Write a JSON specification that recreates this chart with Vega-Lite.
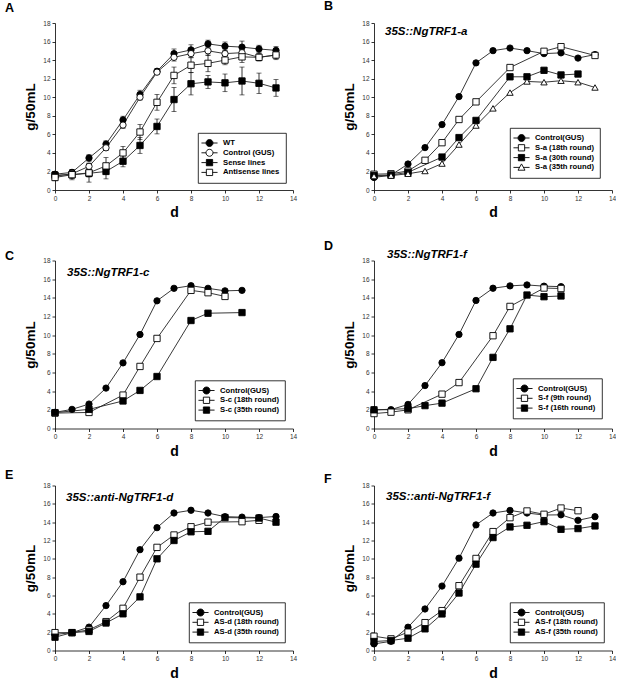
{
"$schema": "https://vega.github.io/schema/vega-lite/v6.json",
"padding": {"left": 5, "top": 0, "right": 0, "bottom": 0},
"spacing": 19.5,
"vconcat": [
{"hconcat": [
{"title": {"text": "A", "dy": -1.5}, "vconcat": [
{
 "width": 238, "height": 167,
 "data": {"values": [
  {"s":"WT","d":0,"v":1.7,"e":0.25},{"s":"WT","d":1,"v":1.9,"e":0.3},{"s":"WT","d":2,"v":3.45,"e":0.35},{"s":"WT","d":3,"v":4.95,"e":0.35},{"s":"WT","d":4,"v":7.55,"e":0.4},{"s":"WT","d":5,"v":10.3,"e":0.45},{"s":"WT","d":6,"v":12.8,"e":0.25},{"s":"WT","d":7,"v":14.7,"e":0.5},{"s":"WT","d":8,"v":15.1,"e":0.55},{"s":"WT","d":9,"v":15.75,"e":0.4},{"s":"WT","d":10,"v":15.5,"e":0.45},{"s":"WT","d":11,"v":15.4,"e":0.65},{"s":"WT","d":12,"v":15.2,"e":0.4},{"s":"WT","d":13,"v":15.05,"e":0.4},
  {"s":"Control (GUS)","d":0,"v":1.5,"e":0.3},{"s":"Control (GUS)","d":1,"v":1.75,"e":0.3},{"s":"Control (GUS)","d":2,"v":2.55,"e":0.35},{"s":"Control (GUS)","d":3,"v":4.55,"e":0.3},{"s":"Control (GUS)","d":4,"v":7.0,"e":0.35},{"s":"Control (GUS)","d":5,"v":10.0,"e":0.3},{"s":"Control (GUS)","d":6,"v":12.7,"e":0.25},{"s":"Control (GUS)","d":7,"v":14.3,"e":0.4},{"s":"Control (GUS)","d":8,"v":14.7,"e":0.4},{"s":"Control (GUS)","d":9,"v":15.0,"e":0.5},{"s":"Control (GUS)","d":10,"v":14.7,"e":0.4},{"s":"Control (GUS)","d":11,"v":14.8,"e":0.35},{"s":"Control (GUS)","d":12,"v":14.3,"e":0.4},{"s":"Control (GUS)","d":13,"v":14.55,"e":0.4},
  {"s":"Sense lines","d":0,"v":1.6,"e":0.35},{"s":"Sense lines","d":1,"v":1.65,"e":0.4},{"s":"Sense lines","d":2,"v":1.8,"e":0.4},{"s":"Sense lines","d":3,"v":2.0,"e":0.8},{"s":"Sense lines","d":4,"v":3.1,"e":0.6},{"s":"Sense lines","d":5,"v":4.8,"e":0.85},{"s":"Sense lines","d":6,"v":6.85,"e":0.8},{"s":"Sense lines","d":7,"v":9.75,"e":1.3},{"s":"Sense lines","d":8,"v":11.45,"e":1.2},{"s":"Sense lines","d":9,"v":11.65,"e":0.7},{"s":"Sense lines","d":10,"v":11.55,"e":0.95},{"s":"Sense lines","d":11,"v":11.75,"e":1.5},{"s":"Sense lines","d":12,"v":11.5,"e":1.1},{"s":"Sense lines","d":13,"v":11.0,"e":0.9},
  {"s":"Antisense lines","d":0,"v":1.35,"e":0.35},{"s":"Antisense lines","d":1,"v":1.65,"e":0.55},{"s":"Antisense lines","d":2,"v":1.85,"e":1.0},{"s":"Antisense lines","d":3,"v":2.6,"e":0.9},{"s":"Antisense lines","d":4,"v":4.0,"e":0.7},{"s":"Antisense lines","d":5,"v":6.25,"e":0.8},{"s":"Antisense lines","d":6,"v":9.45,"e":0.85},{"s":"Antisense lines","d":7,"v":12.35,"e":0.9},{"s":"Antisense lines","d":8,"v":13.45,"e":0.8},{"s":"Antisense lines","d":9,"v":13.65,"e":0.9},{"s":"Antisense lines","d":10,"v":14.0,"e":0.5},{"s":"Antisense lines","d":11,"v":14.35,"e":0.6},{"s":"Antisense lines","d":12,"v":14.3,"e":0.35},{"s":"Antisense lines","d":13,"v":14.55,"e":0.5}
 ]},
 "encoding": {
  "x": {"field": "d", "type": "quantitative", "scale": {"domain": [0, 14], "nice": false}, "axis": {"values": [0,2,4,6,8,10,12,14], "title": "d"}},
  "y": {"field": "v", "type": "quantitative", "scale": {"domain": [0, 18], "nice": false}, "axis": {"values": [0,2,4,6,8,10,12,14,16,18], "title": "g/50mL"}}
 },
 "layer": [
  {"mark": {"type": "errorbar", "color": "black", "thickness": 0.8, "ticks": {"size": 5, "color": "black", "thickness": 0.8}}, "encoding": {"yError": {"field": "e"}, "detail": {"field": "s"}}},
  {"mark": {"type": "line", "color": "#222", "strokeWidth": 0.9}, "encoding": {"detail": {"field": "s"}}},
  {"mark": {"type": "point", "filled": true, "stroke": "black", "strokeWidth": 0.9, "size": 40, "opacity": 1},
   "encoding": {
    "shape": {"field": "s", "scale": {"domain": ["WT","Control (GUS)","Sense lines","Antisense lines"], "range": ["circle","circle","square","square"]}, "legend": null},
    "fill": {"field": "s", "scale": {"domain": ["WT","Control (GUS)","Sense lines","Antisense lines"], "range": ["black","white","black","white"]}, "legend": null}}},
  {"mark": {"type": "point", "filled": true, "stroke": "black", "strokeWidth": 0.9, "opacity": 0},
   "encoding": {
    "shape": {"field": "s", "scale": {"domain": ["WT","Control (GUS)","Sense lines","Antisense lines"], "range": ["M-2.3,0H-1M1,0H2.3M1,0A1,1,0,1,1,-1,0A1,1,0,1,1,1,0Z","M-2.3,0H-1M1,0H2.3M1,0A1,1,0,1,1,-1,0A1,1,0,1,1,1,0Z","M-2.3,0H-0.9M0.9,0H2.3M-0.9,-0.9H0.9V0.9H-0.9Z","M-2.3,0H-0.9M0.9,0H2.3M-0.9,-0.9H0.9V0.9H-0.9Z"]}, "legend": {"title": null, "orient": "bottom-right", "offset": 7, "encode": {"symbols": {"update": {"opacity": {"value": 1}, "stroke": {"value": "black"}, "strokeWidth": {"value": 0.9}, "strokeJoin": {"value": "round"}}}}}},
    "fill": {"field": "s", "scale": {"domain": ["WT","Control (GUS)","Sense lines","Antisense lines"], "range": ["black","white","black","white"]}, "legend": {"title": null, "orient": "bottom-right", "offset": 7, "encode": {"symbols": {"update": {"opacity": {"value": 1}, "stroke": {"value": "black"}, "strokeWidth": {"value": 0.9}, "strokeJoin": {"value": "round"}}}}}}}}
 ],
 "resolve": {"scale": {"shape": "independent", "fill": "independent"}}
}]},
{"title": {"text": "B", "dy": -3.5}, "vconcat": [
{
 "width": 238, "height": 167,
 "title": {"text": "35S::NgTRF1-a", "fontSize": 11.5, "fontStyle": "italic", "dx": 11, "offset": -17.5, "anchor": "start", "frame": "group"},
 "data": {"values": [
  {"s":"Control(GUS)","d":0,"v":1.35},{"s":"Control(GUS)","d":1,"v":1.6},{"s":"Control(GUS)","d":2,"v":2.8},{"s":"Control(GUS)","d":3,"v":4.57},{"s":"Control(GUS)","d":4,"v":7.05},{"s":"Control(GUS)","d":5,"v":10.07},{"s":"Control(GUS)","d":6,"v":13.7},{"s":"Control(GUS)","d":7,"v":15.02},{"s":"Control(GUS)","d":8,"v":15.3},{"s":"Control(GUS)","d":9,"v":15.02},{"s":"Control(GUS)","d":10,"v":14.7},{"s":"Control(GUS)","d":11,"v":14.78},{"s":"Control(GUS)","d":12,"v":14.22},{"s":"Control(GUS)","d":13,"v":14.6},
  {"s":"S-a (18th round)","d":0,"v":1.7},{"s":"S-a (18th round)","d":1,"v":1.75},{"s":"S-a (18th round)","d":2,"v":2.05},{"s":"S-a (18th round)","d":3,"v":3.2},{"s":"S-a (18th round)","d":4,"v":5.1},{"s":"S-a (18th round)","d":5,"v":7.6},{"s":"S-a (18th round)","d":6,"v":9.5},{"s":"S-a (18th round)","d":8,"v":13.2},{"s":"S-a (18th round)","d":10,"v":14.95},{"s":"S-a (18th round)","d":11,"v":15.45},{"s":"S-a (18th round)","d":13,"v":14.5},
  {"s":"S-a (30th round)","d":0,"v":1.55},{"s":"S-a (30th round)","d":1,"v":1.62},{"s":"S-a (30th round)","d":2,"v":1.9},{"s":"S-a (30th round)","d":4,"v":3.55},{"s":"S-a (30th round)","d":5,"v":5.65},{"s":"S-a (30th round)","d":6,"v":7.5},{"s":"S-a (30th round)","d":8,"v":12.2},{"s":"S-a (30th round)","d":9,"v":12.2},{"s":"S-a (30th round)","d":10,"v":12.9},{"s":"S-a (30th round)","d":11,"v":12.4},{"s":"S-a (30th round)","d":12,"v":12.5},
  {"s":"S-a (35th round)","d":0,"v":1.5},{"s":"S-a (35th round)","d":1,"v":1.55},{"s":"S-a (35th round)","d":2,"v":1.75},{"s":"S-a (35th round)","d":3,"v":2.05},{"s":"S-a (35th round)","d":4,"v":2.85},{"s":"S-a (35th round)","d":5,"v":4.9},{"s":"S-a (35th round)","d":6,"v":6.95},{"s":"S-a (35th round)","d":7,"v":8.8},{"s":"S-a (35th round)","d":8,"v":10.5},{"s":"S-a (35th round)","d":9,"v":11.7},{"s":"S-a (35th round)","d":10,"v":11.62},{"s":"S-a (35th round)","d":11,"v":11.78},{"s":"S-a (35th round)","d":12,"v":11.62},{"s":"S-a (35th round)","d":13,"v":11.05}
 ]},
 "encoding": {
  "x": {"field": "d", "type": "quantitative", "scale": {"domain": [0, 14], "nice": false}, "axis": {"values": [0,2,4,6,8,10,12,14], "title": "d"}},
  "y": {"field": "v", "type": "quantitative", "scale": {"domain": [0, 18], "nice": false}, "axis": {"values": [0,2,4,6,8,10,12,14,16,18], "title": "g/50mL"}}
 },
 "layer": [
  {"mark": {"type": "line", "color": "#222", "strokeWidth": 0.9}, "encoding": {"detail": {"field": "s"}}},
  {"mark": {"type": "point", "filled": true, "stroke": "black", "strokeWidth": 0.9, "size": 40, "opacity": 1},
   "encoding": {
    "shape": {"field": "s", "scale": {"domain": ["Control(GUS)","S-a (18th round)","S-a (30th round)","S-a (35th round)"], "range": ["circle","square","square","triangle-up"]}, "legend": null},
    "fill": {"field": "s", "scale": {"domain": ["Control(GUS)","S-a (18th round)","S-a (30th round)","S-a (35th round)"], "range": ["black","white","black","white"]}, "legend": null}}},
  {"mark": {"type": "point", "filled": true, "stroke": "black", "strokeWidth": 0.9, "opacity": 0},
   "encoding": {
    "shape": {"field": "s", "scale": {"domain": ["Control(GUS)","S-a (18th round)","S-a (30th round)","S-a (35th round)"], "range": ["M-2.3,0H-1M1,0H2.3M1,0A1,1,0,1,1,-1,0A1,1,0,1,1,1,0Z","M-2.3,0H-0.9M0.9,0H2.3M-0.9,-0.9H0.9V0.9H-0.9Z","M-2.3,0H-0.9M0.9,0H2.3M-0.9,-0.9H0.9V0.9H-0.9Z","M-2.3,0H-0.5M0.5,0H2.3M0,-1L1,0.8H-1Z"]}, "legend": {"title": null, "orient": "bottom-right", "offset": 12, "encode": {"symbols": {"update": {"opacity": {"value": 1}, "stroke": {"value": "black"}, "strokeWidth": {"value": 0.9}, "strokeJoin": {"value": "round"}}}}}},
    "fill": {"field": "s", "scale": {"domain": ["Control(GUS)","S-a (18th round)","S-a (30th round)","S-a (35th round)"], "range": ["black","white","black","white"]}, "legend": {"title": null, "orient": "bottom-right", "offset": 12, "encode": {"symbols": {"update": {"opacity": {"value": 1}, "stroke": {"value": "black"}, "strokeWidth": {"value": 0.9}, "strokeJoin": {"value": "round"}}}}}}}}
 ],
 "resolve": {"scale": {"shape": "independent", "fill": "independent"}}
}]}
], "spacing": 27},
{"vconcat": [
{"hconcat": [
{"title": {"text": "C", "dy": 9}, "vconcat": [
{
 "width": 238, "height": 168,
 "title": {"text": "35S::NgTRF1-c", "fontSize": 11.5, "fontStyle": "italic", "dx": 12, "offset": -20.5, "anchor": "start", "frame": "group"},
 "data": {"values": [
  {"s":"Control(GUS)","d":0,"v":1.73},{"s":"Control(GUS)","d":1,"v":2.05},{"s":"Control(GUS)","d":2,"v":2.62},{"s":"Control(GUS)","d":3,"v":4.33},{"s":"Control(GUS)","d":4,"v":7.03},{"s":"Control(GUS)","d":5,"v":10.07},{"s":"Control(GUS)","d":6,"v":13.68},{"s":"Control(GUS)","d":7,"v":15.02},{"s":"Control(GUS)","d":8,"v":15.3},{"s":"Control(GUS)","d":9,"v":15.02},{"s":"Control(GUS)","d":10,"v":14.75},{"s":"Control(GUS)","d":11,"v":14.8},
  {"s":"S-c (18th round)","d":0,"v":1.65},{"s":"S-c (18th round)","d":2,"v":1.72},{"s":"S-c (18th round)","d":4,"v":3.58},{"s":"S-c (18th round)","d":5,"v":6.65},{"s":"S-c (18th round)","d":6,"v":9.65},{"s":"S-c (18th round)","d":8,"v":14.8},{"s":"S-c (18th round)","d":9,"v":14.55},{"s":"S-c (18th round)","d":10,"v":14.15},
  {"s":"S-c (35th round)","d":0,"v":1.7},{"s":"S-c (35th round)","d":2,"v":2.05},{"s":"S-c (35th round)","d":4,"v":2.95},{"s":"S-c (35th round)","d":5,"v":4.08},{"s":"S-c (35th round)","d":6,"v":5.57},{"s":"S-c (35th round)","d":8,"v":11.57},{"s":"S-c (35th round)","d":9,"v":12.35},{"s":"S-c (35th round)","d":11,"v":12.42}
 ]},
 "encoding": {
  "x": {"field": "d", "type": "quantitative", "scale": {"domain": [0, 14], "nice": false}, "axis": {"values": [0,2,4,6,8,10,12,14], "title": "d"}},
  "y": {"field": "v", "type": "quantitative", "scale": {"domain": [0, 18], "nice": false}, "axis": {"values": [0,2,4,6,8,10,12,14,16,18], "title": "g/50mL"}}
 },
 "layer": [
  {"mark": {"type": "line", "color": "#222", "strokeWidth": 0.9}, "encoding": {"detail": {"field": "s"}}},
  {"mark": {"type": "point", "filled": true, "stroke": "black", "strokeWidth": 0.9, "size": 40, "opacity": 1},
   "encoding": {
    "shape": {"field": "s", "scale": {"domain": ["Control(GUS)","S-c (18th round)","S-c (35th round)"], "range": ["circle","square","square"]}, "legend": null},
    "fill": {"field": "s", "scale": {"domain": ["Control(GUS)","S-c (18th round)","S-c (35th round)"], "range": ["black","white","black"]}, "legend": null}}},
  {"mark": {"type": "point", "filled": true, "stroke": "black", "strokeWidth": 0.9, "opacity": 0},
   "encoding": {
    "shape": {"field": "s", "scale": {"domain": ["Control(GUS)","S-c (18th round)","S-c (35th round)"], "range": ["M-2.3,0H-1M1,0H2.3M1,0A1,1,0,1,1,-1,0A1,1,0,1,1,1,0Z","M-2.3,0H-0.9M0.9,0H2.3M-0.9,-0.9H0.9V0.9H-0.9Z","M-2.3,0H-0.9M0.9,0H2.3M-0.9,-0.9H0.9V0.9H-0.9Z"]}, "legend": {"title": null, "orient": "bottom-right", "offset": 8, "encode": {"symbols": {"update": {"opacity": {"value": 1}, "stroke": {"value": "black"}, "strokeWidth": {"value": 0.9}, "strokeJoin": {"value": "round"}}}}}},
    "fill": {"field": "s", "scale": {"domain": ["Control(GUS)","S-c (18th round)","S-c (35th round)"], "range": ["black","white","black"]}, "legend": {"title": null, "orient": "bottom-right", "offset": 8, "encode": {"symbols": {"update": {"opacity": {"value": 1}, "stroke": {"value": "black"}, "strokeWidth": {"value": 0.9}, "strokeJoin": {"value": "round"}}}}}}}}
 ],
 "resolve": {"scale": {"shape": "independent", "fill": "independent"}}
}]},
{"title": {"text": "D", "dy": 8}, "vconcat": [
{
 "width": 238, "height": 168,
 "title": {"text": "35S::NgTRF1-f", "fontSize": 11.5, "fontStyle": "italic", "dx": 13, "offset": -2.5, "anchor": "start", "frame": "group"},
 "data": {"values": [
  {"s":"Control(GUS)","d":0,"v":2.0},{"s":"Control(GUS)","d":1,"v":2.02},{"s":"Control(GUS)","d":2,"v":2.58},{"s":"Control(GUS)","d":3,"v":4.6},{"s":"Control(GUS)","d":4,"v":7.05},{"s":"Control(GUS)","d":5,"v":10.08},{"s":"Control(GUS)","d":6,"v":13.72},{"s":"Control(GUS)","d":7,"v":15.03},{"s":"Control(GUS)","d":8,"v":15.28},{"s":"Control(GUS)","d":9,"v":15.38},{"s":"Control(GUS)","d":10,"v":15.25},{"s":"Control(GUS)","d":11,"v":15.2},
  {"s":"S-f (9th round)","d":0,"v":1.6},{"s":"S-f (9th round)","d":1,"v":1.75},{"s":"S-f (9th round)","d":2,"v":2.0},{"s":"S-f (9th round)","d":4,"v":3.68},{"s":"S-f (9th round)","d":5,"v":4.92},{"s":"S-f (9th round)","d":7,"v":9.94},{"s":"S-f (9th round)","d":8,"v":13.08},{"s":"S-f (9th round)","d":10,"v":15.05},{"s":"S-f (9th round)","d":11,"v":15.0},
  {"s":"S-f (16th round)","d":0,"v":2.0},{"s":"S-f (16th round)","d":2,"v":2.12},{"s":"S-f (16th round)","d":3,"v":2.45},{"s":"S-f (16th round)","d":4,"v":2.72},{"s":"S-f (16th round)","d":6,"v":4.26},{"s":"S-f (16th round)","d":7,"v":7.62},{"s":"S-f (16th round)","d":8,"v":10.68},{"s":"S-f (16th round)","d":9,"v":14.3},{"s":"S-f (16th round)","d":10,"v":14.12},{"s":"S-f (16th round)","d":11,"v":14.2}
 ]},
 "encoding": {
  "x": {"field": "d", "type": "quantitative", "scale": {"domain": [0, 14], "nice": false}, "axis": {"values": [0,2,4,6,8,10,12,14], "title": "d"}},
  "y": {"field": "v", "type": "quantitative", "scale": {"domain": [0, 18], "nice": false}, "axis": {"values": [0,2,4,6,8,10,12,14,16,18], "title": "g/50mL"}}
 },
 "layer": [
  {"mark": {"type": "line", "color": "#222", "strokeWidth": 0.9}, "encoding": {"detail": {"field": "s"}}},
  {"mark": {"type": "point", "filled": true, "stroke": "black", "strokeWidth": 0.9, "size": 40, "opacity": 1},
   "encoding": {
    "shape": {"field": "s", "scale": {"domain": ["Control(GUS)","S-f (9th round)","S-f (16th round)"], "range": ["circle","square","square"]}, "legend": null},
    "fill": {"field": "s", "scale": {"domain": ["Control(GUS)","S-f (9th round)","S-f (16th round)"], "range": ["black","white","black"]}, "legend": null}}},
  {"mark": {"type": "point", "filled": true, "stroke": "black", "strokeWidth": 0.9, "opacity": 0},
   "encoding": {
    "shape": {"field": "s", "scale": {"domain": ["Control(GUS)","S-f (9th round)","S-f (16th round)"], "range": ["M-2.3,0H-1M1,0H2.3M1,0A1,1,0,1,1,-1,0A1,1,0,1,1,1,0Z","M-2.3,0H-0.9M0.9,0H2.3M-0.9,-0.9H0.9V0.9H-0.9Z","M-2.3,0H-0.9M0.9,0H2.3M-0.9,-0.9H0.9V0.9H-0.9Z"]}, "legend": {"title": null, "orient": "bottom-right", "offset": 10, "encode": {"symbols": {"update": {"opacity": {"value": 1}, "stroke": {"value": "black"}, "strokeWidth": {"value": 0.9}, "strokeJoin": {"value": "round"}}}}}},
    "fill": {"field": "s", "scale": {"domain": ["Control(GUS)","S-f (9th round)","S-f (16th round)"], "range": ["black","white","black"]}, "legend": {"title": null, "orient": "bottom-right", "offset": 10, "encode": {"symbols": {"update": {"opacity": {"value": 1}, "stroke": {"value": "black"}, "strokeWidth": {"value": 0.9}, "strokeJoin": {"value": "round"}}}}}}}}
 ],
 "resolve": {"scale": {"shape": "independent", "fill": "independent"}}
}]}
], "spacing": 27},
{"hconcat": [
{"title": {"text": "E", "dy": 3}, "vconcat": [
{
 "width": 238, "height": 165,
 "title": {"text": "35S::anti-NgTRF1-d", "fontSize": 11.5, "fontStyle": "italic", "dx": 11, "offset": -20.5, "anchor": "start", "frame": "group"},
 "data": {"values": [
  {"s":"Control(GUS)","d":0,"v":1.75},{"s":"Control(GUS)","d":1,"v":1.95},{"s":"Control(GUS)","d":2,"v":2.55},{"s":"Control(GUS)","d":3,"v":4.9},{"s":"Control(GUS)","d":4,"v":7.5},{"s":"Control(GUS)","d":5,"v":11.0},{"s":"Control(GUS)","d":6,"v":13.4},{"s":"Control(GUS)","d":7,"v":15.0},{"s":"Control(GUS)","d":8,"v":15.3},{"s":"Control(GUS)","d":9,"v":15.0},{"s":"Control(GUS)","d":10,"v":14.6},{"s":"Control(GUS)","d":11,"v":14.55},{"s":"Control(GUS)","d":12,"v":14.5},{"s":"Control(GUS)","d":13,"v":14.62},
  {"s":"AS-d (18th round)","d":0,"v":1.95},{"s":"AS-d (18th round)","d":1,"v":1.95},{"s":"AS-d (18th round)","d":2,"v":2.25},{"s":"AS-d (18th round)","d":3,"v":3.15},{"s":"AS-d (18th round)","d":4,"v":4.6},{"s":"AS-d (18th round)","d":5,"v":8.0},{"s":"AS-d (18th round)","d":6,"v":11.25},{"s":"AS-d (18th round)","d":7,"v":12.6},{"s":"AS-d (18th round)","d":8,"v":13.5},{"s":"AS-d (18th round)","d":9,"v":14.0},{"s":"AS-d (18th round)","d":11,"v":14.05},{"s":"AS-d (18th round)","d":12,"v":14.2},
  {"s":"AS-d (35th round)","d":0,"v":1.45},{"s":"AS-d (35th round)","d":1,"v":1.95},{"s":"AS-d (35th round)","d":2,"v":2.08},{"s":"AS-d (35th round)","d":3,"v":3.0},{"s":"AS-d (35th round)","d":4,"v":4.0},{"s":"AS-d (35th round)","d":5,"v":5.85},{"s":"AS-d (35th round)","d":6,"v":10.0},{"s":"AS-d (35th round)","d":7,"v":12.0},{"s":"AS-d (35th round)","d":8,"v":12.95},{"s":"AS-d (35th round)","d":9,"v":13.0},{"s":"AS-d (35th round)","d":10,"v":14.5},{"s":"AS-d (35th round)","d":12,"v":14.45},{"s":"AS-d (35th round)","d":13,"v":14.0}
 ]},
 "encoding": {
  "x": {"field": "d", "type": "quantitative", "scale": {"domain": [0, 14], "nice": false}, "axis": {"values": [0,2,4,6,8,10,12,14], "title": "d"}},
  "y": {"field": "v", "type": "quantitative", "scale": {"domain": [0, 18], "nice": false}, "axis": {"values": [0,2,4,6,8,10,12,14,16,18], "title": "g/50mL"}}
 },
 "layer": [
  {"mark": {"type": "line", "color": "#222", "strokeWidth": 0.9}, "encoding": {"detail": {"field": "s"}}},
  {"mark": {"type": "point", "filled": true, "stroke": "black", "strokeWidth": 0.9, "size": 40, "opacity": 1},
   "encoding": {
    "shape": {"field": "s", "scale": {"domain": ["Control(GUS)","AS-d (18th round)","AS-d (35th round)"], "range": ["circle","square","square"]}, "legend": null},
    "fill": {"field": "s", "scale": {"domain": ["Control(GUS)","AS-d (18th round)","AS-d (35th round)"], "range": ["black","white","black"]}, "legend": null}}},
  {"mark": {"type": "point", "filled": true, "stroke": "black", "strokeWidth": 0.9, "opacity": 0},
   "encoding": {
    "shape": {"field": "s", "scale": {"domain": ["Control(GUS)","AS-d (18th round)","AS-d (35th round)"], "range": ["M-2.3,0H-1M1,0H2.3M1,0A1,1,0,1,1,-1,0A1,1,0,1,1,1,0Z","M-2.3,0H-0.9M0.9,0H2.3M-0.9,-0.9H0.9V0.9H-0.9Z","M-2.3,0H-0.9M0.9,0H2.3M-0.9,-0.9H0.9V0.9H-0.9Z"]}, "legend": {"title": null, "orient": "bottom-right", "offset": 8, "encode": {"symbols": {"update": {"opacity": {"value": 1}, "stroke": {"value": "black"}, "strokeWidth": {"value": 0.9}, "strokeJoin": {"value": "round"}}}}}},
    "fill": {"field": "s", "scale": {"domain": ["Control(GUS)","AS-d (18th round)","AS-d (35th round)"], "range": ["black","white","black"]}, "legend": {"title": null, "orient": "bottom-right", "offset": 8, "encode": {"symbols": {"update": {"opacity": {"value": 1}, "stroke": {"value": "black"}, "strokeWidth": {"value": 0.9}, "strokeJoin": {"value": "round"}}}}}}}}
 ],
 "resolve": {"scale": {"shape": "independent", "fill": "independent"}}
}]},
{"title": {"text": "F", "dy": 7}, "vconcat": [
{
 "width": 238, "height": 165,
 "title": {"text": "35S::anti-NgTRF1-f", "fontSize": 11.5, "fontStyle": "italic", "dx": 12, "offset": -19.5, "anchor": "start", "frame": "group"},
 "data": {"values": [
  {"s":"Control(GUS)","d":0,"v":0.72},{"s":"Control(GUS)","d":1,"v":1.0},{"s":"Control(GUS)","d":2,"v":2.54},{"s":"Control(GUS)","d":3,"v":4.53},{"s":"Control(GUS)","d":4,"v":7.03},{"s":"Control(GUS)","d":5,"v":10.07},{"s":"Control(GUS)","d":6,"v":13.7},{"s":"Control(GUS)","d":7,"v":15.0},{"s":"Control(GUS)","d":8,"v":15.28},{"s":"Control(GUS)","d":9,"v":15.0},{"s":"Control(GUS)","d":10,"v":14.78},{"s":"Control(GUS)","d":11,"v":14.8},{"s":"Control(GUS)","d":12,"v":14.2},{"s":"Control(GUS)","d":13,"v":14.6},
  {"s":"AS-f (18th round)","d":0,"v":1.56},{"s":"AS-f (18th round)","d":1,"v":1.27},{"s":"AS-f (18th round)","d":2,"v":2.0},{"s":"AS-f (18th round)","d":3,"v":3.04},{"s":"AS-f (18th round)","d":4,"v":4.35},{"s":"AS-f (18th round)","d":5,"v":7.07},{"s":"AS-f (18th round)","d":6,"v":10.04},{"s":"AS-f (18th round)","d":7,"v":12.97},{"s":"AS-f (18th round)","d":8,"v":14.49},{"s":"AS-f (18th round)","d":9,"v":15.22},{"s":"AS-f (18th round)","d":10,"v":14.86},{"s":"AS-f (18th round)","d":11,"v":15.54},{"s":"AS-f (18th round)","d":12,"v":15.25},
  {"s":"AS-f (35th round)","d":0,"v":0.98},{"s":"AS-f (35th round)","d":1,"v":1.09},{"s":"AS-f (35th round)","d":2,"v":1.34},{"s":"AS-f (35th round)","d":3,"v":2.36},{"s":"AS-f (35th round)","d":4,"v":3.99},{"s":"AS-f (35th round)","d":5,"v":6.27},{"s":"AS-f (35th round)","d":6,"v":9.42},{"s":"AS-f (35th round)","d":7,"v":12.32},{"s":"AS-f (35th round)","d":8,"v":13.48},{"s":"AS-f (35th round)","d":9,"v":13.66},{"s":"AS-f (35th round)","d":10,"v":14.06},{"s":"AS-f (35th round)","d":11,"v":13.22},{"s":"AS-f (35th round)","d":12,"v":13.3},{"s":"AS-f (35th round)","d":13,"v":13.59}
 ]},
 "encoding": {
  "x": {"field": "d", "type": "quantitative", "scale": {"domain": [0, 14], "nice": false}, "axis": {"values": [0,2,4,6,8,10,12,14], "title": "d"}},
  "y": {"field": "v", "type": "quantitative", "scale": {"domain": [0, 18], "nice": false}, "axis": {"values": [0,2,4,6,8,10,12,14,16,18], "title": "g/50mL"}}
 },
 "layer": [
  {"mark": {"type": "line", "color": "#222", "strokeWidth": 0.9}, "encoding": {"detail": {"field": "s"}}},
  {"mark": {"type": "point", "filled": true, "stroke": "black", "strokeWidth": 0.9, "size": 40, "opacity": 1},
   "encoding": {
    "shape": {"field": "s", "scale": {"domain": ["Control(GUS)","AS-f (18th round)","AS-f (35th round)"], "range": ["circle","square","square"]}, "legend": null},
    "fill": {"field": "s", "scale": {"domain": ["Control(GUS)","AS-f (18th round)","AS-f (35th round)"], "range": ["black","white","black"]}, "legend": null}}},
  {"mark": {"type": "point", "filled": true, "stroke": "black", "strokeWidth": 0.9, "opacity": 0},
   "encoding": {
    "shape": {"field": "s", "scale": {"domain": ["Control(GUS)","AS-f (18th round)","AS-f (35th round)"], "range": ["M-2.3,0H-1M1,0H2.3M1,0A1,1,0,1,1,-1,0A1,1,0,1,1,1,0Z","M-2.3,0H-0.9M0.9,0H2.3M-0.9,-0.9H0.9V0.9H-0.9Z","M-2.3,0H-0.9M0.9,0H2.3M-0.9,-0.9H0.9V0.9H-0.9Z"]}, "legend": {"title": null, "orient": "bottom-right", "offset": 8, "encode": {"symbols": {"update": {"opacity": {"value": 1}, "stroke": {"value": "black"}, "strokeWidth": {"value": 0.9}, "strokeJoin": {"value": "round"}}}}}},
    "fill": {"field": "s", "scale": {"domain": ["Control(GUS)","AS-f (18th round)","AS-f (35th round)"], "range": ["black","white","black"]}, "legend": {"title": null, "orient": "bottom-right", "offset": 8, "encode": {"symbols": {"update": {"opacity": {"value": 1}, "stroke": {"value": "black"}, "strokeWidth": {"value": 0.9}, "strokeJoin": {"value": "round"}}}}}}}}
 ],
 "resolve": {"scale": {"shape": "independent", "fill": "independent"}}
}]}
], "spacing": 27}
], "spacing": 10}
],
"config": {
 "view": {"stroke": null},
 "font": "Liberation Sans",
 "axis": {"grid": false, "domainColor": "black", "domainWidth": 0.8, "tickColor": "black", "tickSize": 3, "tickWidth": 0.8, "labelFont": "Liberation Sans", "labelFontSize": 6.5, "labelColor": "#333", "labelPadding": 2, "labelFlush": false, "labelOverlap": false, "titleFont": "Liberation Sans", "titleFontSize": 13.5, "titleFontWeight": "bold", "titleColor": "black"},
 "axisY": {"titlePadding": 5},
 "axisX": {"titlePadding": 4, "titleFontSize": 14},
 "legend": {"padding": 6, "strokeColor": "black", "strokeWidth": 0.8, "fillColor": "white", "labelFont": "Liberation Sans", "labelFontSize": 7.7, "labelFontWeight": "bold", "labelColor": "black", "symbolSize": 49, "symbolStrokeColor": "black", "symbolStrokeWidth": 0.9, "labelOffset": 9.5, "symbolOffset": 1.5, "rowPadding": 1.8, "cornerRadius": 0},
 "title": {"fontSize": 12.5, "fontWeight": "bold", "anchor": "start", "frame": "group", "dx": -50, "offset": 0, "color": "black", "font": "Liberation Sans"}
}
}
